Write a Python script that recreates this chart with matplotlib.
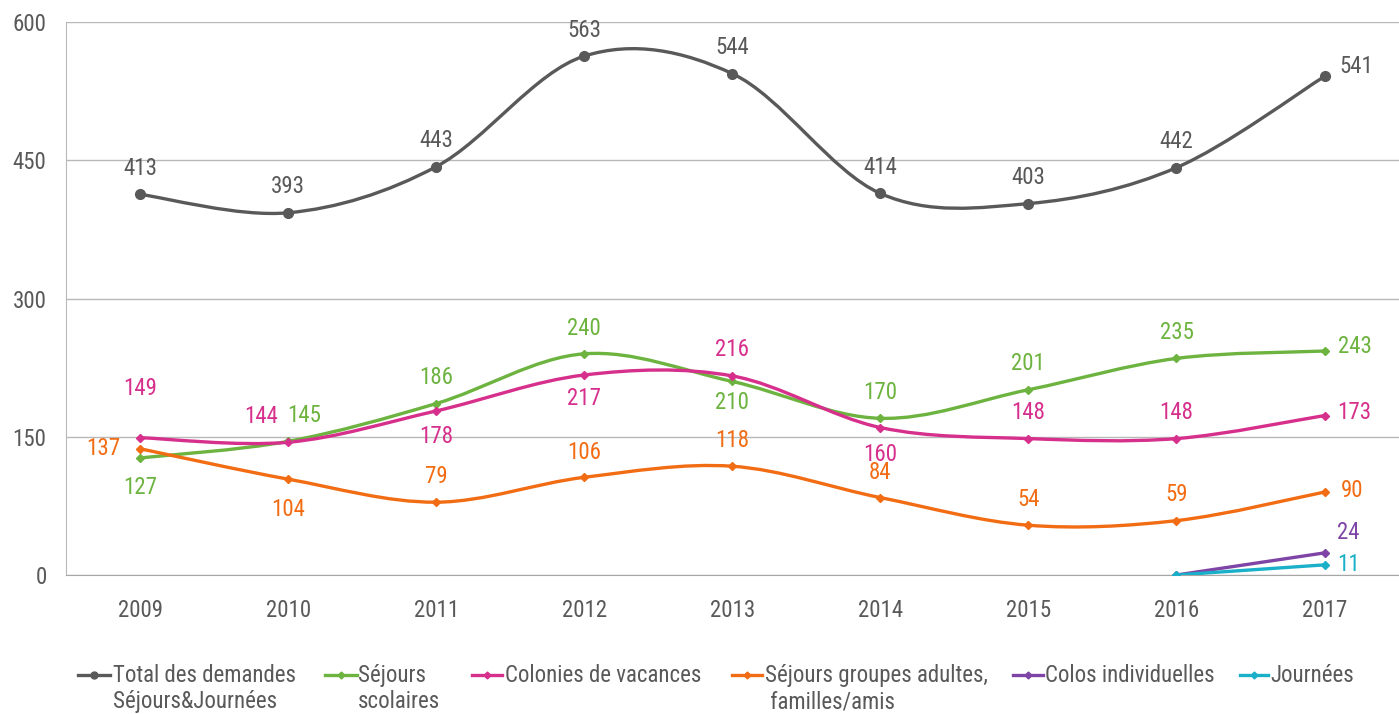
import numpy as np
import matplotlib.pyplot as plt
from matplotlib.path import Path
from matplotlib.patches import PathPatch
from matplotlib.lines import Line2D

plt.rcParams['font.family'] = ['Roboto Condensed', 'Roboto', 'DejaVu Sans']

# ---- data ----
years = ['2009', '2010', '2011', '2012', '2013', '2014', '2015', '2016', '2017']
total = [413, 393, 443, 563, 544, 414, 403, 442, 541]
scolaires = [127, 145, 186, 240, 210, 170, 201, 235, 243]
colonies = [149, 144, 178, 217, 216, 160, 148, 148, 173]
adultes = [137, 104, 79, 106, 118, 84, 54, 59, 90]
colos_ind = [0, 24]       # 2016, 2017
journees = [0, 11]        # 2016, 2017

names = ['Total des demandes\nSéjours&Journées', 'Séjours\nscolaires',
         'Colonies de vacances', 'Séjours groupes adultes,\n familles/amis',
         'Colos individuelles', 'Journées']
colors = ['#595959', '#6DB33F', '#D62F8C', '#F26C13', '#7E44A6', '#1BB0C9']

# label offsets in pixels (dx, dy), dy positive = up
off_total = [(0, 26)] * 8 + [(32, 10)]
off_scol = [(0, -30), (16, 26), (0, 26), (0, 25), (0, -21), (0, 26), (0, 26), (0, 26), (30, 5)]
off_col = [(0, 49), (-27, 26), (0, -26), (0, -24), (0, 26), (0, -27), (0, 26), (0, 26), (30, 3)]
off_adu = [(-37, 0), (0, -30), (0, 26), (0, 25), (0, 26), (0, 25), (0, 26), (0, 26), (28, 2)]
off_ind = [None, (24, 20)]
off_jou = [None, (24, 0)]

FS = 16.5
PX = 72 / 100  # pixels -> points

fig = plt.figure(figsize=(13.99, 7.14), dpi=100)
ax = fig.add_axes([66 / 1399, 139 / 714, 1337 / 1399, 553 / 714])


def smooth_path(xs, ys):
    # Excel-like smoothed line: cubic Bezier through every point
    pts = np.column_stack([xs, ys]).astype(float)
    n = len(pts)
    verts = [pts[0]]
    codes = [Path.MOVETO]
    for i in range(n - 1):
        p0 = pts[i - 1] if i > 0 else pts[i]
        p1 = pts[i]
        p2 = pts[i + 1]
        p3 = pts[i + 2] if i + 2 < n else pts[i + 1]
        c1 = p1 + (p2 - p0) / 6
        c2 = p2 - (p3 - p1) / 6
        verts += [c1, c2, p2]
        codes += [Path.CURVE4] * 3
    return Path(verts, codes)


series = [
    (np.arange(9), total, off_total, 'o', 7),
    (np.arange(9), scolaires, off_scol, 'D', 4.5),
    (np.arange(9), colonies, off_col, 'D', 4.5),
    (np.arange(9), adultes, off_adu, 'D', 4.5),
    (np.arange(7, 9), colos_ind, off_ind, 'D', 4.5),
    (np.arange(7, 9), journees, off_jou, 'D', 4.5),
]

for (xs, ys, offs, mk, ms), c in zip(series, colors):
    ax.add_patch(PathPatch(smooth_path(xs, ys), facecolor='none', edgecolor=c,
                           lw=2.4, zorder=3, capstyle='round'))
    ax.plot(xs, ys, linestyle='none', marker=mk, ms=ms, color=c, zorder=4)
    for x, y, o in zip(xs, ys, offs):
        if o is None:
            continue
        ax.annotate(str(y), (x, y), xytext=(o[0] * PX, o[1] * PX), textcoords='offset points',
                    ha='center', va='center', fontsize=FS, color=c)

ax.set_xlim(-0.5, 8.53)
ax.set_ylim(0, 600)
ax.set_yticks([0, 150, 300, 450, 600])
ax.set_xticks(range(9))
ax.set_xticklabels(years)
ax.tick_params(length=0, labelsize=FS, labelcolor='#595959')
ax.tick_params(axis='x', pad=17)
ax.tick_params(axis='y', pad=14)
ax.grid(axis='y', color='#B8B8B8', lw=1)
ax.set_axisbelow(True)
for s in ['top', 'right']:
    ax.spines[s].set_visible(False)
ax.spines['left'].set_color('#B8B8B8')
ax.spines['bottom'].set_color('#A6A6A6')

# legend, laid out like the original (handle on the first text line)
leg_x = [(78, 110, 113), (325, 357, 358), (472, 502, 505),
         (732, 762, 765), (1013, 1043, 1045), (1240, 1268, 1270)]
W, H = 1399, 714
hy = 1 - 675 / H
for i, ((x0, x1, xt), c, name) in enumerate(zip(leg_x, colors, names)):
    fig.add_artist(Line2D([x0 / W, (x0 + x1) / 2 / W, x1 / W], [hy, hy, hy],
                          transform=fig.transFigure, color=c, lw=2.4,
                          marker='o' if i == 0 else 'D', ms=5 if i == 0 else 3.5,
                          markevery=[1]))
    for k, line in enumerate(name.split('\n')):
        fig.text(xt / W, 1 - (682 + 26 * k) / H, line, ha='left', va='baseline',
                 fontsize=FS, color='#595959')

fig.savefig('out.png', dpi=100)
